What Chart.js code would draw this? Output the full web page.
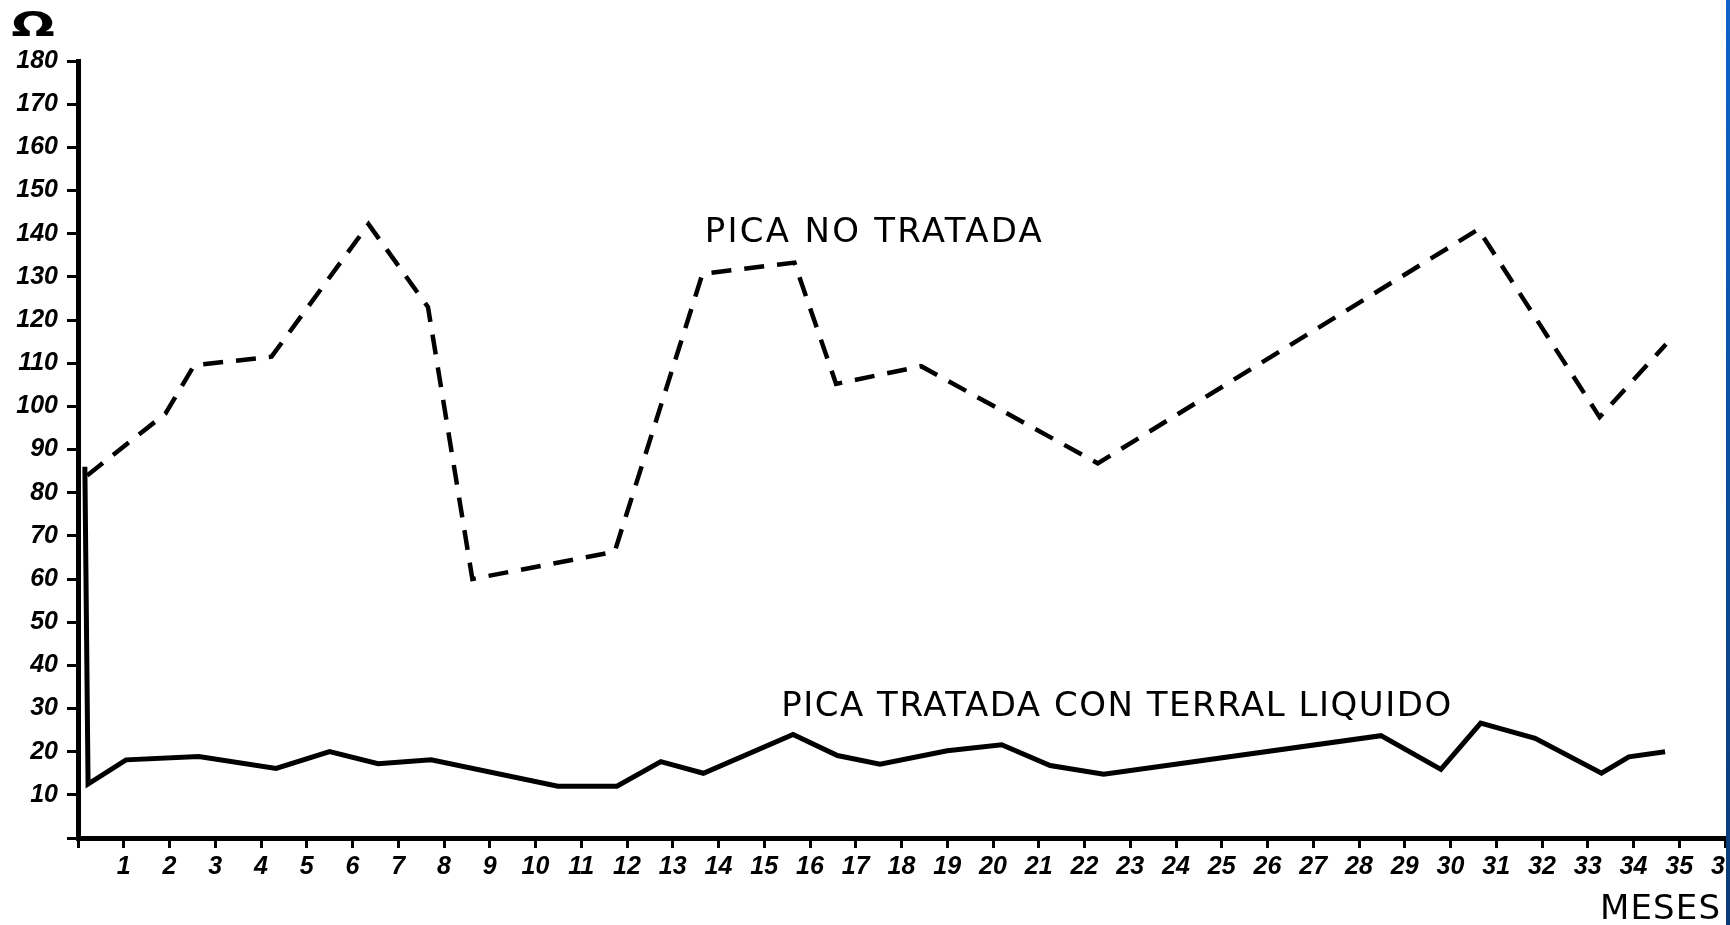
<!DOCTYPE html>
<html>
<head>
<meta charset="utf-8">
<script src="https://cdn.jsdelivr.net/npm/chart.js@4.4.1/dist/chart.umd.min.js"></script>
<style>
  html, body { margin: 0; padding: 0; background: #fff; overflow: hidden; }
  #wrap { position: relative; width: 1760px; height: 925px; }
  #edge { position: absolute; left: 1726px; top: 0; width: 4px; height: 925px; background: linear-gradient(#0d63c9, #0a3a76); }
</style>
</head>
<body>
<div id="wrap"><canvas id="chart"></canvas></div>
<div id="edge"></div>
<script>
// pica no tratada (dashed)
const noTratadaMes = [0.2, 1.91, 2.54, 4.23, 6.35, 7.65, 8.62, 11.73, 13.65, 15.66, 16.57, 18.43, 22.29, 30.61, 33.26, 34.71];
const noTratadaOhm = [84, 98.3, 109.5, 111.5, 142.2, 123, 60, 66.3, 130.7, 133.3, 105.2, 109.3, 86.8, 141, 97.5, 114.4];

// pica tratada con terral liquido (solid)
const tratadaMes = [0.15, 0.22, 1.05, 2.64, 4.33, 5.5, 6.56, 7.72, 10.49, 11.78, 12.74, 13.67, 15.63, 16.6, 17.53, 19.0, 20.19, 21.25, 22.42, 28.48, 29.79, 30.66, 31.85, 33.3, 33.9, 34.69];
const tratadaOhm = [86, 12.5, 18.1, 18.9, 16.1, 20, 17.2, 18.1, 12, 12, 17.7, 15, 24, 19.1, 17.1, 20.2, 21.6, 16.8, 14.8, 23.7, 15.9, 26.6, 23.1, 15, 18.8, 20];

const mesLabels = ["1","2","3","4","5","6","7","8","9","10","11","12","13","14","15","16","17","18","19","20","21","22","23","24","25","26","27","28","29","30","31","32","33","34","35","36"];
const ohmLabels = ["10","20","30","40","50","60","70","80","90","100","110","120","130","140","150","160","170","180"];

const tickFont = { family: "Liberation Sans", size: 25, weight: "bold", style: "italic" };

function fitText(ctx, txt, x0, y0, w) {
  ctx.letterSpacing = "0px";
  const m = ctx.measureText(txt).width;
  ctx.letterSpacing = ((w - m) / (txt.length - 1)) + "px";
  ctx.fillText(txt, x0, y0);
  ctx.letterSpacing = "0px";
}

const textos = {
  id: "textos",
  afterDatasetsDraw(chart) {
    const { ctx, scales: { x, y } } = chart;
    ctx.save();
    ctx.fillStyle = "#000";
    ctx.textBaseline = "middle";
    ctx.textAlign = "left";
    ctx.font = '34px "DejaVu Sans"';
    fitText(ctx, "PICA NO TRATADA", x.getPixelForValue(13.7), y.getPixelForValue(140), 337);
    fitText(ctx, "PICA TRATADA CON TERRAL LIQUIDO", x.getPixelForValue(15.37), y.getPixelForValue(30.3), 670);
    fitText(ctx, "MESES", 1600, 910, 120);

    // ohm symbol
    ctx.font = 'bold 38px "DejaVu Sans"';
    ctx.translate(33, 27);
    ctx.scale(1.35, 0.9);
    ctx.textAlign = "center";
    ctx.fillText("Ω", 0, 0);
    ctx.restore();
  }
};

new Chart(document.getElementById("chart"), {
  type: "line",
  data: {
    datasets: [
      {
        label: "PICA NO TRATADA",
        data: noTratadaMes.map((m, i) => ({ x: m, y: noTratadaOhm[i] })),
        borderColor: "#000",
        borderWidth: 4.5,
        borderDash: [20, 13],
        pointRadius: 0,
        tension: 0
      },
      {
        label: "PICA TRATADA CON TERRAL LIQUIDO",
        data: tratadaMes.map((m, i) => ({ x: m, y: tratadaOhm[i] })),
        borderColor: "#000",
        borderWidth: 5,
        pointRadius: 0,
        tension: 0
      }
    ]
  },
  options: {
    responsive: true,
    maintainAspectRatio: false,
    animation: false,
    layout: { padding: { top: 61, right: 35, left: 0, bottom: 0 } },
    plugins: {
      legend: { display: false },
      tooltip: { enabled: false }
    },
    scales: {
      x: {
        type: "linear",
        min: 0,
        max: 36,
        ticks: {
          stepSize: 1,
          autoSkip: false,
          maxRotation: 0,
          padding: 4,
          color: "#000",
          font: tickFont,
          callback: v => mesLabels[v - 1] || ""
        },
        grid: { drawOnChartArea: false, tickLength: 10, color: "#000", lineWidth: 3 },
        border: { color: "#000", width: 5 },
        afterFit(s) { s.height = 87; }
      },
      y: {
        min: 0,
        max: 180,
        ticks: {
          stepSize: 10,
          padding: 9,
          color: "#000",
          font: tickFont,
          callback: v => ohmLabels[v / 10 - 1] || ""
        },
        grid: { drawOnChartArea: false, tickLength: 11, color: "#000", lineWidth: 3 },
        border: { color: "#000", width: 5 },
        afterFit(s) { s.width = 78; }
      }
    }
  },
  plugins: [textos]
});
</script>
</body>
</html>
